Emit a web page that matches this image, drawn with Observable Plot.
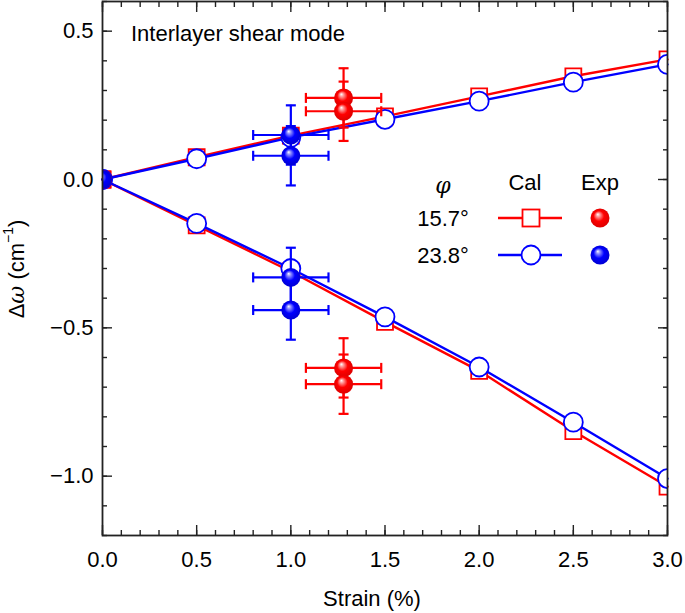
<!DOCTYPE html>
<html><head><meta charset="utf-8">
<script src="https://cdn.jsdelivr.net/npm/d3@7"></script>
<script src="https://cdn.jsdelivr.net/npm/@observablehq/plot@0.6"></script>
<style>body{margin:0;background:#fff}#chart{width:685px;height:613px}</style>
</head><body><div id="chart"></div>
<script>
// ---- data ----
const strain = [0, 0.5, 1.0, 1.5, 2.0, 2.5, 3.0];
const cal157Up = [0, 0.075, 0.148, 0.213, 0.28, 0.348, 0.405];
const cal157Down = [0, -0.155, -0.31, -0.48, -0.645, -0.848, -1.035];
const cal238Up = [0, 0.07, 0.142, 0.203, 0.264, 0.328, 0.388];
const cal238Down = [0, -0.148, -0.30, -0.463, -0.632, -0.818, -1.008];
const exp157X = [0, 1.28, 1.28, 1.28, 1.28];
const exp157Y = [0, 0.275, 0.23, -0.635, -0.69];
const exp238X = [0, 1.0, 1.0, 1.0, 1.0];
const exp238Y = [0, 0.15, 0.08, -0.33, -0.44];
const expXErr = [0, 0.2, 0.2, 0.2, 0.2];
const expYErr = [0, 0.1, 0.1, 0.1, 0.1];
const xMajor = [0, 0.5, 1.0, 1.5, 2.0, 2.5, 3.0];
const yMajor = [-1.0, -0.5, 0.0, 0.5];
const seriesLabels = ["15.7°", "23.8°"];
const RED = "#ff0000", BLUE = "#0000ff";

// ---- tables ----
function calRows(up, down, s) {
  const r = [];
  strain.forEach((x, i) => r.push({s, b: s + "u", x, y: up[i]}));
  strain.forEach((x, i) => r.push({s, b: s + "d", x, y: down[i]}));
  return r;
}
const cal157 = calRows(cal157Up, cal157Down, "a");
const cal238 = calRows(cal238Up, cal238Down, "b");
function expRows(xs, ys) {
  return xs.map((x, i) => ({x, y: ys[i], ex: expXErr[i], ey: expYErr[i]}));
}
const exp157 = expRows(exp157X, exp157Y);
const exp238 = expRows(exp238X, exp238Y);
const err157 = exp157.filter(d => d.ex > 0);
const err238 = exp238.filter(d => d.ex > 0);

const capV = {draw(ctx) { ctx.moveTo(0, -5); ctx.lineTo(0, 5); }};
const capH = {draw(ctx) { ctx.moveTo(-5, 0); ctx.lineTo(5, 0); }};

function errMarks(data, color) {
  const o = {stroke: color, strokeWidth: 2.2};
  return [
    Plot.ruleY(data, {y: "y", x1: d => d.x - d.ex, x2: d => d.x + d.ex, ...o}),
    Plot.ruleX(data, {x: "x", y1: d => d.y - d.ey, y2: d => d.y + d.ey, ...o}),
    Plot.dot(data, {x: d => d.x - d.ex, y: "y", symbol: capV, r: 5, ...o}),
    Plot.dot(data, {x: d => d.x + d.ex, y: "y", symbol: capV, r: 5, ...o}),
    Plot.dot(data, {x: "x", y: d => d.y - d.ey, symbol: capH, r: 5, ...o}),
    Plot.dot(data, {x: "x", y: d => d.y + d.ey, symbol: capH, r: 5, ...o})
  ];
}
const yMinor = d3.range(-12, 7).map(v => v / 10);
const xMinor = d3.range(0, 31).map(v => v / 10);
const blank = () => "";
function tickAxes(ticksX, ticksY, len) {
  const o = {tickSize: len, tickFormat: blank, label: null, stroke: "#222", strokeWidth: 1.4};
  return [
    Plot.axisX({anchor: "bottom", ticks: ticksX, dy: -len, ...o}),
    Plot.axisX({anchor: "top", ticks: ticksX, dy: len, ...o}),
    Plot.axisY({anchor: "left", ticks: ticksY, dx: len, ...o}),
    Plot.axisY({anchor: "right", ticks: ticksY, dx: -len, ...o})
  ];
}

const FS = 22;
const plot = Plot.plot({
  width: 685, height: 613,
  marginLeft: 102, marginRight: 18, marginTop: 1, marginBottom: 78,
  x: {domain: [0, 3]},
  y: {domain: [-1.2, 0.6]},
  style: {fontFamily: "'Liberation Sans', Arial, sans-serif", fontSize: FS + "px", color: "#000", background: "#fff"},
  marks: [
    ...tickAxes(xMinor, yMinor, 5),
    ...tickAxes(xMajor, yMajor, 10),
    Plot.axisX({ticks: xMajor, tickSize: 0, tickPadding: 16, tickFormat: d3.format(".1f"), label: null}),
    Plot.axisY({ticks: yMajor, tickSize: 0, tickPadding: 9, tickFormat: d3.format(".1f"), label: null}),
    Plot.line(cal157, {x: "x", y: "y", z: "b", stroke: RED, strokeWidth: 2.4}),
    Plot.dot(cal157, {x: "x", y: "y", symbol: "square", r: 9, fill: "#fff", stroke: RED, strokeWidth: 1.8, clip: true}),
    Plot.line(cal238, {x: "x", y: "y", z: "b", stroke: BLUE, strokeWidth: 2.4}),
    Plot.dot(cal238, {x: "x", y: "y", symbol: "circle", r: 9.5, fill: "#fff", stroke: BLUE, strokeWidth: 1.8, clip: true}),
    ...errMarks(err238, BLUE),
    ...errMarks(err157, RED),
    Plot.dot(exp157, {x: "x", y: "y", r: 9.5, fill: "url(#gRed)", clip: true}),
    Plot.dot(exp238, {x: "x", y: "y", r: 9.5, fill: "url(#gBlue)", clip: true}),
    Plot.frame({stroke: "#222", strokeWidth: 1.8})
  ]
});
document.getElementById("chart").appendChild(plot);

// ---- gradients, titles and legend ----
const svg = d3.select(plot);
const defs = svg.insert("defs", ":first-child");
function grad(id, light, mid, dark) {
  const g = defs.append("radialGradient").attr("id", id).attr("cx", "50%").attr("cy", "50%").attr("r", "55%").attr("fx", "38%").attr("fy", "30%");
  g.append("stop").attr("offset", "0%").attr("stop-color", "#ffffff");
  g.append("stop").attr("offset", "18%").attr("stop-color", light);
  g.append("stop").attr("offset", "50%").attr("stop-color", mid);
  g.append("stop").attr("offset", "100%").attr("stop-color", dark);
}
grad("gRed", "#ff9a9a", "#ff0000", "#d80000");
grad("gBlue", "#9090ff", "#0000ff", "#0000cc");

const font = "'Liberation Sans', Arial, sans-serif";
const T = (x, y, txt, opts = {}) => svg.append("text").attr("x", x).attr("y", y)
  .attr("font-family", font).attr("font-size", opts.size || FS).attr("fill", "#000")
  .attr("text-anchor", opts.anchor || "middle").attr("dominant-baseline", "central")
  .attr("font-style", opts.style || "normal").text(txt);

T(131, 33, "Interlayer shear mode", {anchor: "start"});
T(372, 598, "Strain (%)");

const yl = svg.append("text").attr("transform", "translate(16,269) rotate(-90)")
  .attr("font-family", font).attr("font-size", FS).attr("text-anchor", "middle").attr("dominant-baseline", "central");
yl.append("tspan").text("Δ");
yl.append("tspan").attr("font-family", "'DejaVu Serif', serif").attr("font-style", "italic").text("ω");
yl.append("tspan").text(" (cm");
yl.append("tspan").attr("font-size", 14).attr("dy", -8).text("−1");
yl.append("tspan").attr("dy", 8).text(")");

// legend
T(443, 185, "φ", {style: "italic", size: 22}).attr("font-family", "'DejaVu Serif', serif");
T(525, 182, "Cal");
T(600, 182, "Exp");
const rows = [{y: 218, c: RED, sym: "sq", g: "gRed"}, {y: 255, c: BLUE, sym: "ci", g: "gBlue"}];
rows.forEach((r, i) => {
  T(443, r.y, seriesLabels[i]);
  svg.append("line").attr("x1", 498).attr("x2", 562).attr("y1", r.y).attr("y2", r.y).attr("stroke", r.c).attr("stroke-width", 2.4);
  if (r.sym === "sq") svg.append("rect").attr("x", 531 - 8.5).attr("y", r.y - 8.5).attr("width", 17).attr("height", 17).attr("fill", "#fff").attr("stroke", r.c).attr("stroke-width", 1.8);
  else svg.append("circle").attr("cx", 531).attr("cy", r.y).attr("r", 9.5).attr("fill", "#fff").attr("stroke", r.c).attr("stroke-width", 1.8);
  svg.append("circle").attr("cx", 600).attr("cy", r.y).attr("r", 9.5).attr("fill", `url(#${r.g})`);
});
</script>
</body></html>
